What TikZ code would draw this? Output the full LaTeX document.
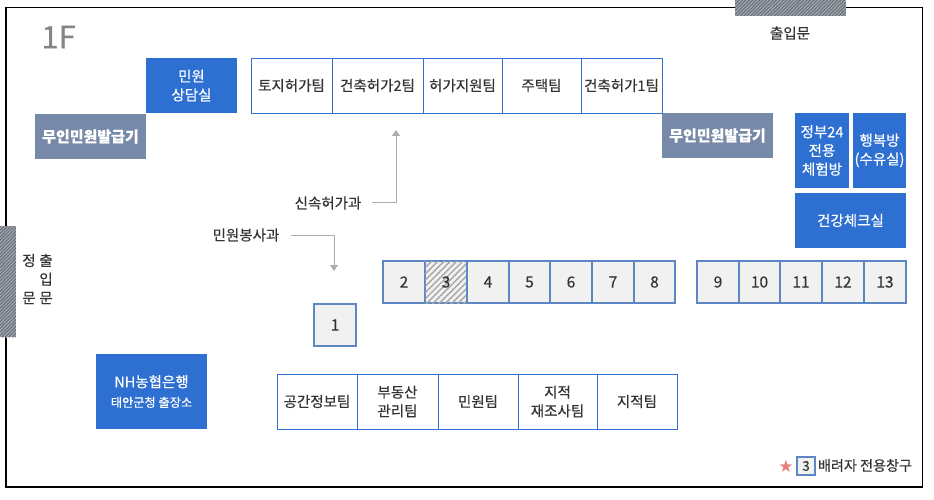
\documentclass[tikz,border=0pt]{standalone}
\usepackage{fontspec}
\setmainfont{Noto Sans CJK KR}[FakeBold=0.35]
\newfontfamily\kioskfont{Noto Sans CJK KR}[UprightFont=*,BoldFont=*,FakeBold=1.2,Weight=Medium]
\usetikzlibrary{patterns.meta,arrows.meta}
\definecolor{roomblue}{HTML}{2E6FD2}
\definecolor{kioskgrey}{HTML}{7789A8}
\definecolor{winedge}{HTML}{5F87C4}
\definecolor{winfill}{HTML}{F1F1F1}
\definecolor{teamedge}{HTML}{3070D0}
\definecolor{inktext}{HTML}{333333}
\definecolor{doorgrey}{HTML}{6C747E}
\definecolor{stargold}{HTML}{E57F84}
\newcommand{\pxbox}[7]{\node[#2,minimum width=#5pt-#3pt,minimum height=#6pt-#4pt] (#1) at ({(#3+#5)/2},{(#4+#6)/2}) {#7};}
\tikzset{
  x=1pt,y=-1pt,
  every node/.style={inner sep=0pt,outer sep=0pt,align=center,text=inktext,font=\fontsize{14.5}{18.7}\selectfont},
  solidroom/.style={fill=roomblue,text=white,draw=none},
  kiosk/.style={fill=kioskgrey,text=white,draw=none,font=\fontsize{15}{18}\selectfont\bfseries},
  team/.style={draw=teamedge,line width=0.85pt,fill=white},
  window/.style={draw=winedge,line width=2.2pt,fill=winfill,font=\fontsize{15.5}{18}\selectfont},
  hatchwin/.style={window,postaction={pattern={Lines[angle=45,distance=4.4pt,line width=1.4pt]},pattern color=black!35}},
  hatchdoor/.style={draw=none,fill=doorgrey,postaction={pattern={Lines[angle=45,distance=2.4pt,line width=0.8pt]},pattern color=white!45!doorgrey}},
  guide/.style={line width=0.8pt,-{Triangle[length=6pt,width=8pt]},color=black!32}
}
\begin{document}
\begin{tikzpicture}
\useasboundingbox (0,0) rectangle (934,500);
\coordinate (bl) at (6,487); \coordinate (tr) at (922.5,7.5);
\draw[black,line width=1.4pt] (bl) rectangle (tr);
\pxbox{doortop}{hatchdoor}{735}{0}{846}{16}{}
\pxbox{doorleft}{hatchdoor}{0}{226}{16}{337}{}
\node[text=black!48,font=\fontsize{31}{31}\selectfont] (floor) at (58.5,37) {1F};
\node (gatetop) at (790,33) {출입문};
\node (gateA) at (29,279) {정\\[18.5pt]문};
\node (gateB) at (46,279) {출\\입\\문};
\pxbox{sangdam}{solidroom}{146}{58}{237}{113}{민원\\상담실}
\pxbox{kioskL}{kiosk}{35}{114}{146}{159}{무인민원발급기}
\pxbox{kioskR}{kiosk}{662}{113}{773}{158}{무인민원발급기}
\pxbox{jb}{solidroom}{795}{113}{849}{188}{정부24\\전용\\체험방}
\pxbox{hb}{solidroom}{853}{113}{906}{188}{행복방\\(수유실)}
\pxbox{health}{solidroom}{795}{193}{906}{248}{건강체크실}
\pxbox{nh}{solidroom}{96}{354}{207}{429}{NH농협은행\\[1pt]{\fontsize{12.2}{14}\selectfont 태안군청 출장소}}
% upper teams
\pxbox{t1}{team}{251}{58}{332}{113}{토지허가팀}
\pxbox{t2}{team}{332}{58}{423}{113}{건축허가2팀}
\pxbox{t3}{team}{423}{58}{502}{113}{허가지원팀}
\pxbox{t4}{team}{502}{58}{581}{113}{주택팀}
\pxbox{t5}{team}{581}{58}{662}{113}{건축허가1팀}
% lower teams
\pxbox{b1}{team}{277}{374}{357}{429}{공간정보팀}
\pxbox{b2}{team}{357}{374}{438}{429}{부동산\\관리팀}
\pxbox{b3}{team}{438}{374}{518}{429}{민원팀}
\pxbox{b4}{team}{518}{374}{597}{429}{지적\\재조사팀}
\pxbox{b5}{team}{597}{374}{677}{429}{지적팀}
% windows
\pxbox{w1}{window}{314}{304}{356}{346}{1}
\pxbox{w2}{window}{383}{261}{425}{303}{2}
\pxbox{w3}{hatchwin}{425}{261}{467}{303}{}
\pxbox{w4}{window}{467}{261}{509}{303}{4}
\pxbox{w5}{window}{509}{261}{550}{303}{5}
\pxbox{w6}{window}{550}{261}{592}{303}{6}
\pxbox{w7}{window}{592}{261}{634}{303}{7}
\pxbox{w8}{window}{634}{261}{675}{303}{8}
\pxbox{w9}{window}{697}{261}{739}{303}{9}
\pxbox{w10}{window}{739}{261}{780}{303}{10}
\pxbox{w11}{window}{780}{261}{822}{303}{11}
\pxbox{w12}{window}{822}{261}{864}{303}{12}
\pxbox{w13}{window}{864}{261}{906}{303}{13}
\node[font=\fontsize{15.5}{18}\selectfont] (w3num) at (w3) {3};
% guides
\node (sinsok) at (328,203) {신속허가과};
\node (minwon) at (246,235) {민원봉사과};
\coordinate (sinsoktip) at (396,130);
\coordinate (minwontip) at (334,271);
\draw[guide] ([xshift=11pt,yshift=1pt]sinsok.east) -| (sinsoktip);
\draw[guide] ([xshift=12pt]minwon.east) -| (minwontip);
% legend
\node[text=stargold,font=\fontsize{17}{17}\selectfont\fontspec{DejaVu Sans}] (star) at (786,466) {★};
\pxbox{lg}{window,font=\fontsize{13.5}{13}\selectfont}{797}{457}{815}{475}{3}
\node[anchor=west,font=\fontsize{14.1}{16}\selectfont] (lgtext) at (818,465.5) {배려자 전용창구};
\end{tikzpicture}
\end{document}
